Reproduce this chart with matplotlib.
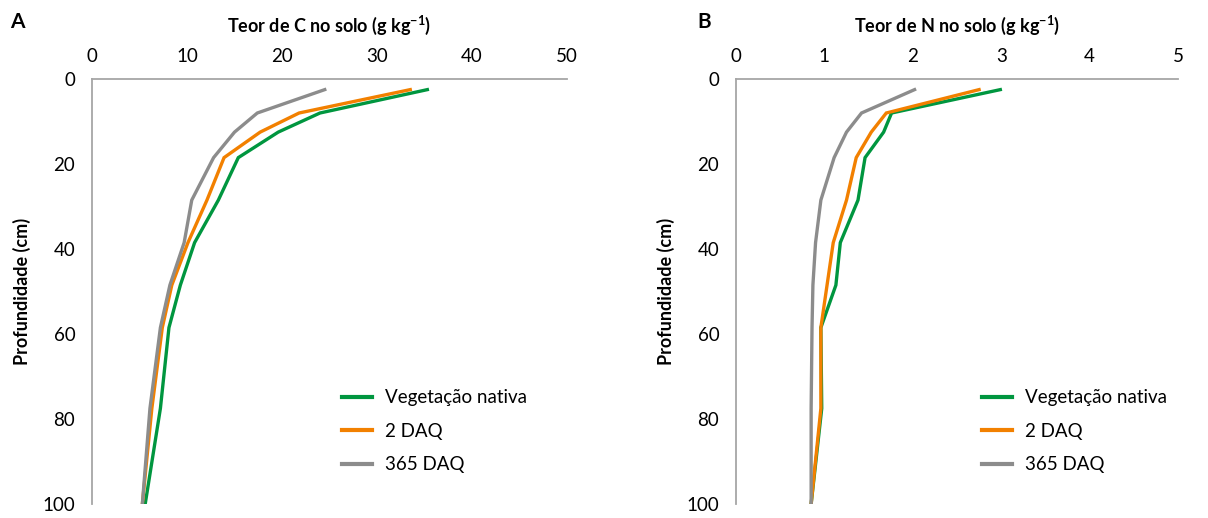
import matplotlib
matplotlib.use("Agg")
import matplotlib.pyplot as plt

plt.rcParams['font.family'] = ['Lato', 'DejaVu Sans']
plt.rcParams['mathtext.fontset'] = 'custom'
plt.rcParams['mathtext.rm'] = 'Lato'
plt.rcParams['mathtext.bf'] = 'Lato:bold'
plt.rcParams['mathtext.default'] = 'bf'

depth = [2.5, 8, 12.5, 18.5, 28.5, 38.5, 48.5, 58.5, 77.5, 100]

c_nativa = [35.3, 24.0, 19.6, 15.4, 13.3, 10.8, 9.3, 8.1, 7.2, 5.6]
c_2daq = [33.5, 21.8, 17.7, 13.9, 12.1, 10.1, 8.4, 7.4, 6.3, 5.3]
c_365daq = [24.5, 17.4, 15.0, 12.8, 10.5, 9.7, 8.2, 7.2, 6.1, 5.3]

n_nativa = [2.99, 1.76, 1.67, 1.46, 1.38, 1.18, 1.13, 0.96, 0.97, 0.85]
n_2daq = [2.75, 1.70, 1.53, 1.36, 1.25, 1.10, 1.03, 0.96, 0.96, 0.85]
n_365daq = [2.02, 1.42, 1.25, 1.11, 0.96, 0.90, 0.87, 0.86, 0.85, 0.85]

labels = ['Vegetação nativa', '2 DAQ', '365 DAQ']
colors = ['#00963F', '#F28000', '#8C8C8C']

W, H = 1208, 518
fig = plt.figure(figsize=(W / 100, H / 100), dpi=100)

def make_ax(x0, x1, y0, y1):
    return fig.add_axes([x0 / W, 1 - y1 / H, (x1 - x0) / W, (y1 - y0) / H])

axA = make_ax(92, 567, 79, 504)
axB = make_ax(736, 1178, 79, 504)

panels = [
    (axA, [c_nativa, c_2daq, c_365daq], 50, range(0, 51, 10),
     'Teor de C no solo (g kg$^{-1}$)', 'A', 10, 0.526),
    (axB, [n_nativa, n_2daq, n_365daq], 5, range(0, 6, 1),
     'Teor de N no solo (g kg$^{-1}$)', 'B', 697, 0.557),
]

for ax, series, xmax, xticks, title, letter, letx, legx in panels:
    for vals, lab, col in zip(series, labels, colors):
        ax.plot(vals, depth, color=col, lw=2.4, label=lab, solid_joinstyle='miter')
    ax.set_xlim(0, xmax)
    ax.set_ylim(100, 0)
    ax.set_xticks(list(xticks))
    ax.set_yticks(range(0, 101, 20))
    ax.xaxis.tick_top()
    ax.tick_params(length=0, labelsize=13.5, pad=10, colors='black')
    ax.tick_params(axis='y', pad=12)
    for s in ['right', 'bottom']:
        ax.spines[s].set_visible(False)
    for s in ['top', 'left']:
        ax.spines[s].set_color('#A6A6A6')
        ax.spines[s].set_linewidth(1.3)
    ax.set_ylabel('Profundidade (cm)', fontsize=13, fontweight='bold', labelpad=8)
    ax.set_title(title, fontsize=13, fontweight='bold', pad=34)
    fig.text(letx / W, 1 - 22 / H, letter, fontsize=15,
             fontweight='bold', ha='left', va='center')
    leg = ax.legend(loc='upper left', bbox_to_anchor=(legx, 0.27), frameon=False,
                    fontsize=13.5, handlelength=1.6, labelspacing=0.88,
                    handletextpad=0.7, borderpad=0, borderaxespad=0)
    for lh in leg.get_lines():
        lh.set_linewidth(3)

fig.savefig('out.png', dpi=100)
